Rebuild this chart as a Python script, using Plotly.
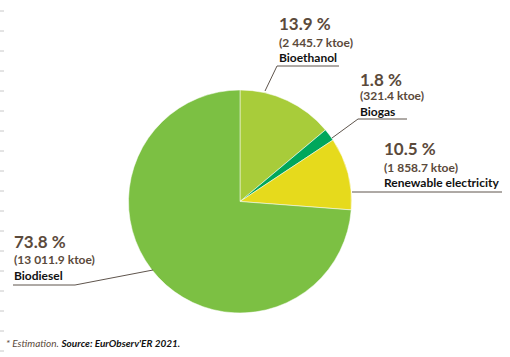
import plotly.graph_objects as go

# ---- data ----
categories = ["Bioethanol", "Biogas", "Renewable electricity", "Biodiesel"]
shares = [13.9, 1.8, 10.5, 73.8]
ktoe_labels = ["2 445.7", "321.4", "1 858.7", "13 011.9"]
colors = ["#a8cc3a", "#00a75c", "#e6da1c", "#7cc043"]

W, H = 510, 357
def px(x): return x / W
def py(y): return 1 - y / H

BROWN = "#5b4a3b"
FONT = "Lato"

fig = go.Figure(go.Pie(
    labels=categories, values=shares, sort=False, direction="clockwise",
    rotation=0, marker=dict(colors=colors, line=dict(color="white", width=0.5)),
    textinfo="none", hoverinfo="label+percent", showlegend=False,
    domain=dict(x=[px(128), px(352)], y=[py(313), py(90)]),
))

# label blocks: (left x, y of percent, y of ktoe, y of name)
label_pos = {
    "Bioethanol": (277, 24, 42, 58),
    "Biogas": (358, 79, 96, 111),
    "Renewable electricity": (382, 148, 167, 182),
    "Biodiesel": (12, 241, 259, 275),
}
annotations = []
for cat, sh, kt in zip(categories, shares, ktoe_labels):
    x0, yp, yk, yn = label_pos[cat]
    annotations += [
        dict(x=px(x0), y=py(yp), text=f"<b>{sh} %</b>", font=dict(family=FONT, size=17, color=BROWN)),
        dict(x=px(x0), y=py(yk), text=f"<b>({kt} ktoe)</b>", font=dict(family=FONT, size=12, color=BROWN)),
        dict(x=px(x0), y=py(yn), text=f"<b>{cat}</b>", font=dict(family=FONT, size=12, color="#111111")),
    ]
for a in annotations:
    a.update(xref="paper", yref="paper", xanchor="left", yanchor="middle", showarrow=False)

annotations.append(dict(
    x=px(4), y=py(343), xref="paper", yref="paper", xanchor="left", yanchor="middle", showarrow=False,
    text="<i><span style='color:#5b4a3b'>* Estimation.</span></i> <b><i>Source: EurObserv'ER 2021.</i></b>",
    font=dict(family=FONT, size=10, color="#111111"),
))

LINE = dict(color="#5f554d", width=1)
leaders = [
    [(339, 66), (277, 66), (265, 91)],
    [(407, 119), (358, 119), (332, 138)],
    [(502, 192), (352, 192)],
    [(13, 285), (75, 285), (153, 270)],
]
shapes = []
for pts in leaders:
    path = "M " + " L ".join(f"{px(x)},{py(y)}" for x, y in pts)
    shapes.append(dict(type="path", xref="paper", yref="paper", path=path, line=LINE))
for k in range(18):
    y = 11 + 20 * k
    shapes.append(dict(type="line", xref="paper", yref="paper", x0=0, x1=px(4), y0=py(y), y1=py(y),
                       line=dict(color="#c8c8c8", width=1)))

fig.update_layout(
    width=W, height=H, margin=dict(l=0, r=0, t=0, b=0),
    paper_bgcolor="white", plot_bgcolor="white",
    annotations=annotations, shapes=shapes,
)
fig.write_html("out.html", config={"displayModeBar": False},
               post_script="document.body.style.margin='0';document.body.style.overflow='hidden';")
